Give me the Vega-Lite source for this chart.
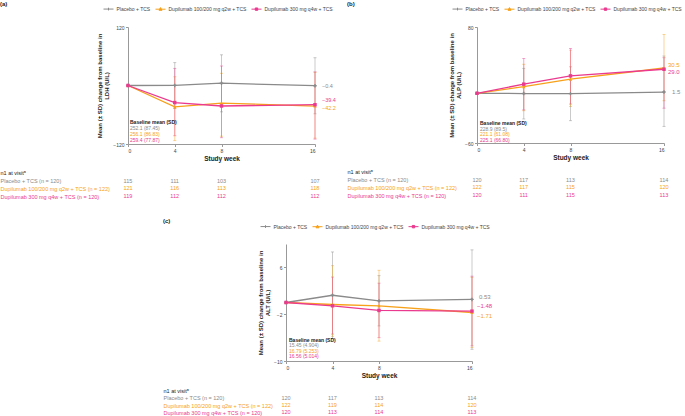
{
  "$schema": "https://vega.github.io/schema/vega-lite/v6.json",
  "padding": {"left": 0, "top": 0, "right": 0, "bottom": 0},
  "background": "white",
  "config": {
    "font": "Liberation Sans",
    "view": {"stroke": null},
    "axis": {"grid": false, "domainColor": "#999999", "tickColor": "#999999", "labelColor": "#444444", "labelFontSize": 5, "tickSize": 2.5, "labelPadding": 1.5, "titleColor": "#222222", "titleFontWeight": "bold"},
    "title": {"fontSize": 6, "fontWeight": "bold", "anchor": "start", "frame": "bounds", "offset": -3, "color": "#222222"},
    "text": {"font": "Liberation Sans"}
  },
  "datasets": {
    "ldh": [
      {"series": "Placebo + TCS", "week": 0, "mean": 0, "base": "252.1 (87.45)"},
      {"series": "Placebo + TCS", "week": 4, "mean": 0.2, "lo": -47, "hi": 47},
      {"series": "Placebo + TCS", "week": 8, "mean": 4.8, "lo": -54, "hi": 63},
      {"series": "Placebo + TCS", "week": 16, "mean": -0.4, "lo": -58, "hi": 57},
      {"series": "Dupilumab 100/200 mg q2w + TCS", "week": 0, "mean": 0, "base": "256.1 (86.83)"},
      {"series": "Dupilumab 100/200 mg q2w + TCS", "week": 4, "mean": -44, "lo": -113, "hi": 18},
      {"series": "Dupilumab 100/200 mg q2w + TCS", "week": 8, "mean": -36, "lo": -104, "hi": 25},
      {"series": "Dupilumab 100/200 mg q2w + TCS", "week": 16, "mean": -42.2, "lo": -108, "hi": 27},
      {"series": "Dupilumab 300 mg q4w + TCS", "week": 0, "mean": 0, "base": "259.4 (77.87)"},
      {"series": "Dupilumab 300 mg q4w + TCS", "week": 4, "mean": -35, "lo": -103, "hi": 35},
      {"series": "Dupilumab 300 mg q4w + TCS", "week": 8, "mean": -42, "lo": -107, "hi": 40},
      {"series": "Dupilumab 300 mg q4w + TCS", "week": 16, "mean": -39.4, "lo": -110, "hi": 28}
    ],
    "alp": [
      {"series": "Placebo + TCS", "week": 0, "mean": 0, "base": "228.9 (89.5)"},
      {"series": "Placebo + TCS", "week": 4, "mean": -0.3, "lo": -31, "hi": 30},
      {"series": "Placebo + TCS", "week": 8, "mean": -0.4, "lo": -33, "hi": 32},
      {"series": "Placebo + TCS", "week": 16, "mean": 1.5, "lo": -40, "hi": 45},
      {"series": "Dupilumab 100/200 mg q2w + TCS", "week": 0, "mean": 0, "base": "221.1 (61.08)"},
      {"series": "Dupilumab 100/200 mg q2w + TCS", "week": 4, "mean": 8, "lo": -21, "hi": 35},
      {"series": "Dupilumab 100/200 mg q2w + TCS", "week": 8, "mean": 17, "lo": -16, "hi": 52},
      {"series": "Dupilumab 100/200 mg q2w + TCS", "week": 16, "mean": 30.5, "lo": -9, "hi": 71},
      {"series": "Dupilumab 300 mg q4w + TCS", "week": 0, "mean": 0, "base": "225.1 (66.80)"},
      {"series": "Dupilumab 300 mg q4w + TCS", "week": 4, "mean": 11, "lo": -20, "hi": 42},
      {"series": "Dupilumab 300 mg q4w + TCS", "week": 8, "mean": 21, "lo": -13, "hi": 54},
      {"series": "Dupilumab 300 mg q4w + TCS", "week": 16, "mean": 29.0, "lo": -18, "hi": 43}
    ],
    "alt": [
      {"series": "Placebo + TCS", "week": 0, "mean": 0, "base": "15.45 (4.904)"},
      {"series": "Placebo + TCS", "week": 4, "mean": 1.24, "lo": -6.16, "hi": 8.64},
      {"series": "Placebo + TCS", "week": 8, "mean": 0.28, "lo": -4.0, "hi": 4.6},
      {"series": "Placebo + TCS", "week": 16, "mean": 0.53, "lo": -8.0, "hi": 9.0},
      {"series": "Dupilumab 100/200 mg q2w + TCS", "week": 0, "mean": 0, "base": "16.79 (5.253)"},
      {"series": "Dupilumab 100/200 mg q2w + TCS", "week": 4, "mean": -0.34, "lo": -5.8, "hi": 6.3},
      {"series": "Dupilumab 100/200 mg q2w + TCS", "week": 8, "mean": -0.56, "lo": -6.6, "hi": 5.5},
      {"series": "Dupilumab 100/200 mg q2w + TCS", "week": 16, "mean": -1.71, "lo": -7.7, "hi": 4.3},
      {"series": "Dupilumab 300 mg q4w + TCS", "week": 0, "mean": 0, "base": "16.56 (5.014)"},
      {"series": "Dupilumab 300 mg q4w + TCS", "week": 4, "mean": -0.56, "lo": -5.4, "hi": 4.35},
      {"series": "Dupilumab 300 mg q4w + TCS", "week": 8, "mean": -1.36, "lo": -6.0, "hi": 3.3},
      {"series": "Dupilumab 300 mg q4w + TCS", "week": 16, "mean": -1.48, "lo": -7.4, "hi": 4.5}
    ],
    "ldh_n": [
      {"row": "Placebo + TCS (n = 120)", "series": "Placebo + TCS", "week": 0, "n": 115},
      {"row": "Placebo + TCS (n = 120)", "series": "Placebo + TCS", "week": 4, "n": 111},
      {"row": "Placebo + TCS (n = 120)", "series": "Placebo + TCS", "week": 8, "n": 103},
      {"row": "Placebo + TCS (n = 120)", "series": "Placebo + TCS", "week": 16, "n": 107},
      {"row": "Dupilumab 100/200 mg q2w + TCS (n = 122)", "series": "Dupilumab 100/200 mg q2w + TCS", "week": 0, "n": 121},
      {"row": "Dupilumab 100/200 mg q2w + TCS (n = 122)", "series": "Dupilumab 100/200 mg q2w + TCS", "week": 4, "n": 116},
      {"row": "Dupilumab 100/200 mg q2w + TCS (n = 122)", "series": "Dupilumab 100/200 mg q2w + TCS", "week": 8, "n": 113},
      {"row": "Dupilumab 100/200 mg q2w + TCS (n = 122)", "series": "Dupilumab 100/200 mg q2w + TCS", "week": 16, "n": 118},
      {"row": "Dupilumab 300 mg q4w + TCS (n = 120)", "series": "Dupilumab 300 mg q4w + TCS", "week": 0, "n": 119},
      {"row": "Dupilumab 300 mg q4w + TCS (n = 120)", "series": "Dupilumab 300 mg q4w + TCS", "week": 4, "n": 112},
      {"row": "Dupilumab 300 mg q4w + TCS (n = 120)", "series": "Dupilumab 300 mg q4w + TCS", "week": 8, "n": 112},
      {"row": "Dupilumab 300 mg q4w + TCS (n = 120)", "series": "Dupilumab 300 mg q4w + TCS", "week": 16, "n": 112}
    ],
    "alp_n": [
      {"row": "Placebo + TCS (n = 120)", "series": "Placebo + TCS", "week": 0, "n": 120},
      {"row": "Placebo + TCS (n = 120)", "series": "Placebo + TCS", "week": 4, "n": 117},
      {"row": "Placebo + TCS (n = 120)", "series": "Placebo + TCS", "week": 8, "n": 113},
      {"row": "Placebo + TCS (n = 120)", "series": "Placebo + TCS", "week": 16, "n": 114},
      {"row": "Dupilumab 100/200 mg q2w + TCS (n = 122)", "series": "Dupilumab 100/200 mg q2w + TCS", "week": 0, "n": 122},
      {"row": "Dupilumab 100/200 mg q2w + TCS (n = 122)", "series": "Dupilumab 100/200 mg q2w + TCS", "week": 4, "n": 117},
      {"row": "Dupilumab 100/200 mg q2w + TCS (n = 122)", "series": "Dupilumab 100/200 mg q2w + TCS", "week": 8, "n": 115},
      {"row": "Dupilumab 100/200 mg q2w + TCS (n = 122)", "series": "Dupilumab 100/200 mg q2w + TCS", "week": 16, "n": 120},
      {"row": "Dupilumab 300 mg q4w + TCS (n = 120)", "series": "Dupilumab 300 mg q4w + TCS", "week": 0, "n": 120},
      {"row": "Dupilumab 300 mg q4w + TCS (n = 120)", "series": "Dupilumab 300 mg q4w + TCS", "week": 4, "n": 111},
      {"row": "Dupilumab 300 mg q4w + TCS (n = 120)", "series": "Dupilumab 300 mg q4w + TCS", "week": 8, "n": 115},
      {"row": "Dupilumab 300 mg q4w + TCS (n = 120)", "series": "Dupilumab 300 mg q4w + TCS", "week": 16, "n": 113}
    ],
    "alt_n": [
      {"row": "Placebo + TCS (n = 120)", "series": "Placebo + TCS", "week": 0, "n": 120},
      {"row": "Placebo + TCS (n = 120)", "series": "Placebo + TCS", "week": 4, "n": 117},
      {"row": "Placebo + TCS (n = 120)", "series": "Placebo + TCS", "week": 8, "n": 113},
      {"row": "Placebo + TCS (n = 120)", "series": "Placebo + TCS", "week": 16, "n": 114},
      {"row": "Dupilumab 100/200 mg q2w + TCS (n = 122)", "series": "Dupilumab 100/200 mg q2w + TCS", "week": 0, "n": 122},
      {"row": "Dupilumab 100/200 mg q2w + TCS (n = 122)", "series": "Dupilumab 100/200 mg q2w + TCS", "week": 4, "n": 119},
      {"row": "Dupilumab 100/200 mg q2w + TCS (n = 122)", "series": "Dupilumab 100/200 mg q2w + TCS", "week": 8, "n": 114},
      {"row": "Dupilumab 100/200 mg q2w + TCS (n = 122)", "series": "Dupilumab 100/200 mg q2w + TCS", "week": 16, "n": 120},
      {"row": "Dupilumab 300 mg q4w + TCS (n = 120)", "series": "Dupilumab 300 mg q4w + TCS", "week": 0, "n": 120},
      {"row": "Dupilumab 300 mg q4w + TCS (n = 120)", "series": "Dupilumab 300 mg q4w + TCS", "week": 4, "n": 113},
      {"row": "Dupilumab 300 mg q4w + TCS (n = 120)", "series": "Dupilumab 300 mg q4w + TCS", "week": 8, "n": 114},
      {"row": "Dupilumab 300 mg q4w + TCS (n = 120)", "series": "Dupilumab 300 mg q4w + TCS", "week": 16, "n": 113}
    ]
  },
  "spacing": 18,
  "resolve": {"scale": {"shape": "independent", "fill": "independent", "stroke": "independent"}, "legend": {"shape": "independent", "fill": "independent", "stroke": "independent"}},
  "vconcat": [
    {
      "spacing": 11,
      "resolve": {"scale": {"shape": "independent", "fill": "independent", "stroke": "independent"}, "legend": {"shape": "independent", "fill": "independent", "stroke": "independent"}},
      "hconcat": [
        {
          "title": {"text": "(a)"},
          "spacing": 7,
          "resolve": {"scale": {"shape": "independent", "fill": "independent", "stroke": "independent"}, "legend": {"shape": "independent", "fill": "independent", "stroke": "independent"}},
          "vconcat": [
            {
              "width": 187, "height": 117,
              "data": {"name": "ldh"},
              "encoding": {"x": {"field": "week", "type": "quantitative", "scale": {"domain": [0, 16], "nice": false}, "axis": {"values": [0, 4, 8, 16], "format": "d", "title": "Study week", "titleFontSize": 6.5, "titlePadding": 2}}},
              "layer": [
                {"transform": [{"filter": "isValid(datum.lo)"}], "mark": {"type": "errorbar", "ticks": {"size": 3}, "opacity": 0.45, "thickness": 1},
                 "encoding": {"y": {"field": "lo", "type": "quantitative", "scale": {"domain": [-120, 120], "nice": false, "zero": false}, "axis": {"values": [-120, -80, -40, 0, 40, 80, 120], "title": ["Mean (± SD) change from baseline in", "LDH (U/L)"], "titleFontSize": 6, "titleLineHeight": 7.5, "titlePadding": 3}}, "y2": {"field": "hi"}, "color": {"field": "series", "type": "nominal", "scale": {"domain": ["Placebo + TCS", "Dupilumab 100/200 mg q2w + TCS", "Dupilumab 300 mg q4w + TCS"], "range": ["#8A8A8A", "#F7A11A", "#EA3A8F"]}, "legend": null}}},
                {"mark": {"type": "line", "strokeWidth": 1.3}, "encoding": {"y": {"field": "mean", "type": "quantitative"}, "color": {"field": "series", "type": "nominal", "legend": null}}},
                {"transform": [{"filter": "datum.series == 'Placebo + TCS'"}], "mark": {"type": "point", "shape": "cross", "filled": true, "opacity": 1, "size": 12}, "encoding": {"y": {"field": "mean", "type": "quantitative"}, "color": {"field": "series", "type": "nominal", "legend": null}}},
                {"transform": [{"filter": "datum.series == 'Dupilumab 100/200 mg q2w + TCS'"}], "mark": {"type": "point", "shape": "triangle-up", "filled": true, "opacity": 1, "size": 12}, "encoding": {"y": {"field": "mean", "type": "quantitative"}, "color": {"field": "series", "type": "nominal", "legend": null}}},
                {"transform": [{"filter": "datum.series == 'Dupilumab 300 mg q4w + TCS'"}], "mark": {"type": "point", "shape": "square", "filled": true, "opacity": 1, "size": 12}, "encoding": {"y": {"field": "mean", "type": "quantitative"}, "color": {"field": "series", "type": "nominal", "legend": null}}},
                {"transform": [{"filter": "false"}], "mark": {"type": "point", "filled": true, "opacity": 1, "strokeWidth": 1},
                 "encoding": {"y": {"field": "mean", "type": "quantitative"},
                   "fill": {"field": "series", "type": "nominal", "scale": {"domain": ["Placebo + TCS", "Dupilumab 100/200 mg q2w + TCS", "Dupilumab 300 mg q4w + TCS"], "range": ["#8A8A8A", "#F7A11A", "#EA3A8F"]}, "legend": {"orient": "none", "legendX": -25, "legendY": -23.5, "direction": "horizontal", "title": null, "symbolSize": 100, "symbolStrokeWidth": 1, "labelFontSize": 5, "labelColor": "#444444", "columnPadding": 2, "labelOffset": 2.5}},
                   "stroke": {"field": "series", "type": "nominal", "scale": {"domain": ["Placebo + TCS", "Dupilumab 100/200 mg q2w + TCS", "Dupilumab 300 mg q4w + TCS"], "range": ["#8A8A8A", "#F7A11A", "#EA3A8F"]}, "legend": {"orient": "none", "legendX": -25, "legendY": -23.5, "direction": "horizontal", "title": null, "symbolSize": 100, "symbolStrokeWidth": 1, "labelFontSize": 5, "labelColor": "#444444", "columnPadding": 2, "labelOffset": 2.5}},
                   "shape": {"field": "series", "type": "nominal", "scale": {"domain": ["Placebo + TCS", "Dupilumab 100/200 mg q2w + TCS", "Dupilumab 300 mg q4w + TCS"], "range": ["M-1,0H1M0,-0.27V0.27", "M-1,0H1M0,-0.32L0.3,0.22H-0.3Z", "M-1,0H1M-0.24,-0.24H0.24V0.24H-0.24Z"]}, "legend": {"orient": "none", "legendX": -25, "legendY": -23.5, "direction": "horizontal", "title": null, "symbolSize": 100, "symbolStrokeWidth": 1, "labelFontSize": 5, "labelColor": "#444444", "columnPadding": 2, "labelOffset": 2.5}}}},
                {"transform": [{"filter": "datum.week == 16 && datum.series == 'Placebo + TCS'"}], "mark": {"type": "text", "align": "left", "dx": 7, "dy": 0, "fontSize": 5.5}, "encoding": {"y": {"field": "mean", "type": "quantitative"}, "text": {"field": "mean", "format": ".1f"}, "color": {"field": "series", "type": "nominal", "legend": null}}},
                {"transform": [{"filter": "datum.week == 16 && datum.series == 'Dupilumab 100/200 mg q2w + TCS'"}], "mark": {"type": "text", "align": "left", "dx": 7, "dy": 1.5, "fontSize": 5.5}, "encoding": {"y": {"field": "mean", "type": "quantitative"}, "text": {"field": "mean", "format": ".1f"}, "color": {"field": "series", "type": "nominal", "legend": null}}},
                {"transform": [{"filter": "datum.week == 16 && datum.series == 'Dupilumab 300 mg q4w + TCS'"}], "mark": {"type": "text", "align": "left", "dx": 7, "dy": -5, "fontSize": 5.5}, "encoding": {"y": {"field": "mean", "type": "quantitative"}, "text": {"field": "mean", "format": ".1f"}, "color": {"field": "series", "type": "nominal", "legend": null}}},
                {"transform": [{"filter": "datum.week == 0 && datum.series == 'Placebo + TCS'"}], "mark": {"type": "text", "align": "left", "baseline": "middle", "dx": 2, "fontSize": 5, "fontWeight": "bold", "color": "#222222", "text": "Baseline mean (SD)"}, "encoding": {"y": {"datum": -74, "type": "quantitative"}}},
                {"transform": [{"filter": "datum.week == 0 && datum.series == 'Placebo + TCS'"}], "mark": {"type": "text", "align": "left", "baseline": "middle", "dx": 2, "fontSize": 5}, "encoding": {"y": {"datum": -88, "type": "quantitative"}, "text": {"field": "base"}, "color": {"field": "series", "type": "nominal", "legend": null}}},
                {"transform": [{"filter": "datum.week == 0 && datum.series == 'Dupilumab 100/200 mg q2w + TCS'"}], "mark": {"type": "text", "align": "left", "baseline": "middle", "dx": 2, "fontSize": 5}, "encoding": {"y": {"datum": -99.5, "type": "quantitative"}, "text": {"field": "base"}, "color": {"field": "series", "type": "nominal", "legend": null}}},
                {"transform": [{"filter": "datum.week == 0 && datum.series == 'Dupilumab 300 mg q4w + TCS'"}], "mark": {"type": "text", "align": "left", "baseline": "middle", "dx": 2, "fontSize": 5}, "encoding": {"y": {"datum": -111, "type": "quantitative"}, "text": {"field": "base"}, "color": {"field": "series", "type": "nominal", "legend": null}}}
              ]
            },
            {
              "width": 187, "height": 31,
              "data": {"name": "ldh_n"},
              "mark": {"type": "text", "fontSize": 5.5},
              "encoding": {
                "x": {"field": "week", "type": "quantitative", "scale": {"domain": [0, 16], "nice": false}, "axis": null},
                "y": {"field": "row", "type": "nominal", "scale": {"domain": ["n1 at visitᵃ", "Placebo + TCS (n = 120)", "Dupilumab 100/200 mg q2w + TCS (n = 122)", "Dupilumab 300 mg q4w + TCS (n = 120)"]}, "axis": {"title": null, "domain": false, "ticks": false, "labelAlign": "left", "labelPadding": 128, "labelFontSize": 5.5, "labelLimit": 0, "labelColor": {"expr": "datum.value == 'Dupilumab 100/200 mg q2w + TCS (n = 122)' ? '#F7A11A' : datum.value == 'Dupilumab 300 mg q4w + TCS (n = 120)' ? '#EA3A8F' : datum.value == 'Placebo + TCS (n = 120)' ? '#8A8A8A' : '#222222'"}}},
                "text": {"field": "n"},
                "color": {"field": "series", "type": "nominal", "scale": {"domain": ["Placebo + TCS", "Dupilumab 100/200 mg q2w + TCS", "Dupilumab 300 mg q4w + TCS"], "range": ["#8A8A8A", "#F7A11A", "#EA3A8F"]}, "legend": null}
              }
            }
          ]
        },
        {
          "title": {"text": "(b)"},
          "spacing": 7,
          "resolve": {"scale": {"shape": "independent", "fill": "independent", "stroke": "independent"}, "legend": {"shape": "independent", "fill": "independent", "stroke": "independent"}},
          "vconcat": [
            {
              "width": 187, "height": 116,
              "data": {"name": "alp"},
              "encoding": {"x": {"field": "week", "type": "quantitative", "scale": {"domain": [0, 16], "nice": false}, "axis": {"values": [0, 4, 8, 16], "format": "d", "title": "Study week", "titleFontSize": 6.5, "titlePadding": 2}}},
              "layer": [
                {"transform": [{"filter": "isValid(datum.lo)"}], "mark": {"type": "errorbar", "ticks": {"size": 3}, "opacity": 0.45, "thickness": 1},
                 "encoding": {"y": {"field": "lo", "type": "quantitative", "scale": {"domain": [-60, 80], "nice": false, "zero": false}, "axis": {"values": [-60, -40, -20, 0, 20, 40, 60, 80], "title": ["Mean (± SD) change from baseline in", "ALP (U/L)"], "titleFontSize": 6, "titleLineHeight": 7.5, "titlePadding": 3}}, "y2": {"field": "hi"}, "color": {"field": "series", "type": "nominal", "scale": {"domain": ["Placebo + TCS", "Dupilumab 100/200 mg q2w + TCS", "Dupilumab 300 mg q4w + TCS"], "range": ["#8A8A8A", "#F7A11A", "#EA3A8F"]}, "legend": null}}},
                {"mark": {"type": "line", "strokeWidth": 1.3}, "encoding": {"y": {"field": "mean", "type": "quantitative"}, "color": {"field": "series", "type": "nominal", "legend": null}}},
                {"transform": [{"filter": "datum.series == 'Placebo + TCS'"}], "mark": {"type": "point", "shape": "cross", "filled": true, "opacity": 1, "size": 12}, "encoding": {"y": {"field": "mean", "type": "quantitative"}, "color": {"field": "series", "type": "nominal", "legend": null}}},
                {"transform": [{"filter": "datum.series == 'Dupilumab 100/200 mg q2w + TCS'"}], "mark": {"type": "point", "shape": "triangle-up", "filled": true, "opacity": 1, "size": 12}, "encoding": {"y": {"field": "mean", "type": "quantitative"}, "color": {"field": "series", "type": "nominal", "legend": null}}},
                {"transform": [{"filter": "datum.series == 'Dupilumab 300 mg q4w + TCS'"}], "mark": {"type": "point", "shape": "square", "filled": true, "opacity": 1, "size": 12}, "encoding": {"y": {"field": "mean", "type": "quantitative"}, "color": {"field": "series", "type": "nominal", "legend": null}}},
                {"transform": [{"filter": "false"}], "mark": {"type": "point", "filled": true, "opacity": 1, "strokeWidth": 1},
                 "encoding": {"y": {"field": "mean", "type": "quantitative"},
                   "fill": {"field": "series", "type": "nominal", "scale": {"domain": ["Placebo + TCS", "Dupilumab 100/200 mg q2w + TCS", "Dupilumab 300 mg q4w + TCS"], "range": ["#8A8A8A", "#F7A11A", "#EA3A8F"]}, "legend": {"orient": "none", "legendX": -25, "legendY": -23.5, "direction": "horizontal", "title": null, "symbolSize": 100, "symbolStrokeWidth": 1, "labelFontSize": 5, "labelColor": "#444444", "columnPadding": 2, "labelOffset": 2.5}},
                   "stroke": {"field": "series", "type": "nominal", "scale": {"domain": ["Placebo + TCS", "Dupilumab 100/200 mg q2w + TCS", "Dupilumab 300 mg q4w + TCS"], "range": ["#8A8A8A", "#F7A11A", "#EA3A8F"]}, "legend": {"orient": "none", "legendX": -25, "legendY": -23.5, "direction": "horizontal", "title": null, "symbolSize": 100, "symbolStrokeWidth": 1, "labelFontSize": 5, "labelColor": "#444444", "columnPadding": 2, "labelOffset": 2.5}},
                   "shape": {"field": "series", "type": "nominal", "scale": {"domain": ["Placebo + TCS", "Dupilumab 100/200 mg q2w + TCS", "Dupilumab 300 mg q4w + TCS"], "range": ["M-1,0H1M0,-0.27V0.27", "M-1,0H1M0,-0.32L0.3,0.22H-0.3Z", "M-1,0H1M-0.24,-0.24H0.24V0.24H-0.24Z"]}, "legend": {"orient": "none", "legendX": -25, "legendY": -23.5, "direction": "horizontal", "title": null, "symbolSize": 100, "symbolStrokeWidth": 1, "labelFontSize": 5, "labelColor": "#444444", "columnPadding": 2, "labelOffset": 2.5}}}},
                {"transform": [{"filter": "datum.week == 16 && datum.series == 'Placebo + TCS'"}], "mark": {"type": "text", "align": "left", "dx": 8, "dy": 0, "fontSize": 6}, "encoding": {"y": {"field": "mean", "type": "quantitative"}, "text": {"field": "mean", "format": ".1f"}, "color": {"field": "series", "type": "nominal", "legend": null}}},
                {"transform": [{"filter": "datum.week == 16 && datum.series == 'Dupilumab 100/200 mg q2w + TCS'"}], "mark": {"type": "text", "align": "left", "dx": 4, "dy": -3, "fontSize": 6}, "encoding": {"y": {"field": "mean", "type": "quantitative"}, "text": {"field": "mean", "format": ".1f"}, "color": {"field": "series", "type": "nominal", "legend": null}}},
                {"transform": [{"filter": "datum.week == 16 && datum.series == 'Dupilumab 300 mg q4w + TCS'"}], "mark": {"type": "text", "align": "left", "dx": 4, "dy": 3, "fontSize": 6}, "encoding": {"y": {"field": "mean", "type": "quantitative"}, "text": {"field": "mean", "format": ".1f"}, "color": {"field": "series", "type": "nominal", "legend": null}}},
                {"transform": [{"filter": "datum.week == 0 && datum.series == 'Placebo + TCS'"}], "mark": {"type": "text", "align": "left", "baseline": "middle", "dx": 3, "fontSize": 5, "fontWeight": "bold", "color": "#222222", "text": "Baseline mean (SD)"}, "encoding": {"y": {"datum": -36, "type": "quantitative"}}},
                {"transform": [{"filter": "datum.week == 0 && datum.series == 'Placebo + TCS'"}], "mark": {"type": "text", "align": "left", "baseline": "middle", "dx": 3, "fontSize": 5}, "encoding": {"y": {"datum": -42.5, "type": "quantitative"}, "text": {"field": "base"}, "color": {"field": "series", "type": "nominal", "legend": null}}},
                {"transform": [{"filter": "datum.week == 0 && datum.series == 'Dupilumab 100/200 mg q2w + TCS'"}], "mark": {"type": "text", "align": "left", "baseline": "middle", "dx": 3, "fontSize": 5}, "encoding": {"y": {"datum": -49, "type": "quantitative"}, "text": {"field": "base"}, "color": {"field": "series", "type": "nominal", "legend": null}}},
                {"transform": [{"filter": "datum.week == 0 && datum.series == 'Dupilumab 300 mg q4w + TCS'"}], "mark": {"type": "text", "align": "left", "baseline": "middle", "dx": 3, "fontSize": 5}, "encoding": {"y": {"datum": -55.8, "type": "quantitative"}, "text": {"field": "base"}, "color": {"field": "series", "type": "nominal", "legend": null}}}
              ]
            },
            {
              "width": 187, "height": 31,
              "data": {"name": "alp_n"},
              "mark": {"type": "text", "fontSize": 5.5},
              "encoding": {
                "x": {"field": "week", "type": "quantitative", "scale": {"domain": [0, 16], "nice": false}, "axis": null},
                "y": {"field": "row", "type": "nominal", "scale": {"domain": ["n1 at visitᵃ", "Placebo + TCS (n = 120)", "Dupilumab 100/200 mg q2w + TCS (n = 122)", "Dupilumab 300 mg q4w + TCS (n = 120)"]}, "axis": {"title": null, "domain": false, "ticks": false, "labelAlign": "left", "labelPadding": 130, "labelFontSize": 5.5, "labelLimit": 0, "labelColor": {"expr": "datum.value == 'Dupilumab 100/200 mg q2w + TCS (n = 122)' ? '#F7A11A' : datum.value == 'Dupilumab 300 mg q4w + TCS (n = 120)' ? '#EA3A8F' : datum.value == 'Placebo + TCS (n = 120)' ? '#8A8A8A' : '#222222'"}}},
                "text": {"field": "n"},
                "color": {"field": "series", "type": "nominal", "scale": {"domain": ["Placebo + TCS", "Dupilumab 100/200 mg q2w + TCS", "Dupilumab 300 mg q4w + TCS"], "range": ["#8A8A8A", "#F7A11A", "#EA3A8F"]}, "legend": null}
              }
            }
          ]
        }
      ]
    },
    {
      "spacing": 0,
      "resolve": {"scale": {"shape": "independent", "fill": "independent", "stroke": "independent"}, "legend": {"shape": "independent", "fill": "independent", "stroke": "independent"}},
      "hconcat": [
        {"width": 35, "height": 5, "data": {"values": []}, "mark": "point", "encoding": {}},
        {
          "title": {"text": "(c)"},
          "spacing": 8,
          "resolve": {"scale": {"shape": "independent", "fill": "independent", "stroke": "independent"}, "legend": {"shape": "independent", "fill": "independent", "stroke": "independent"}},
          "vconcat": [
            {
              "width": 186, "height": 117,
              "data": {"name": "alt"},
              "encoding": {"x": {"field": "week", "type": "quantitative", "scale": {"domain": [0, 16], "nice": false}, "axis": {"values": [0, 4, 8, 16], "format": "d", "title": "Study week", "titleFontSize": 6.5, "titlePadding": 2}}},
              "layer": [
                {"transform": [{"filter": "isValid(datum.lo)"}], "mark": {"type": "errorbar", "ticks": {"size": 3}, "opacity": 0.45, "thickness": 1},
                 "encoding": {"y": {"field": "lo", "type": "quantitative", "scale": {"domain": [-10, 10], "nice": false, "zero": false}, "axis": {"values": [-10, -8, -6, -4, -2, 0, 2, 4, 6, 8, 10], "title": ["Mean (± SD) change from baseline in", "ALT (U/L)"], "titleFontSize": 6, "titleLineHeight": 7.5, "titlePadding": 3}}, "y2": {"field": "hi"}, "color": {"field": "series", "type": "nominal", "scale": {"domain": ["Placebo + TCS", "Dupilumab 100/200 mg q2w + TCS", "Dupilumab 300 mg q4w + TCS"], "range": ["#8A8A8A", "#F7A11A", "#EA3A8F"]}, "legend": null}}},
                {"mark": {"type": "line", "strokeWidth": 1.3}, "encoding": {"y": {"field": "mean", "type": "quantitative"}, "color": {"field": "series", "type": "nominal", "legend": null}}},
                {"transform": [{"filter": "datum.series == 'Placebo + TCS'"}], "mark": {"type": "point", "shape": "cross", "filled": true, "opacity": 1, "size": 12}, "encoding": {"y": {"field": "mean", "type": "quantitative"}, "color": {"field": "series", "type": "nominal", "legend": null}}},
                {"transform": [{"filter": "datum.series == 'Dupilumab 100/200 mg q2w + TCS'"}], "mark": {"type": "point", "shape": "triangle-up", "filled": true, "opacity": 1, "size": 12}, "encoding": {"y": {"field": "mean", "type": "quantitative"}, "color": {"field": "series", "type": "nominal", "legend": null}}},
                {"transform": [{"filter": "datum.series == 'Dupilumab 300 mg q4w + TCS'"}], "mark": {"type": "point", "shape": "square", "filled": true, "opacity": 1, "size": 12}, "encoding": {"y": {"field": "mean", "type": "quantitative"}, "color": {"field": "series", "type": "nominal", "legend": null}}},
                {"transform": [{"filter": "false"}], "mark": {"type": "point", "filled": true, "opacity": 1, "strokeWidth": 1},
                 "encoding": {"y": {"field": "mean", "type": "quantitative"},
                   "fill": {"field": "series", "type": "nominal", "scale": {"domain": ["Placebo + TCS", "Dupilumab 100/200 mg q2w + TCS", "Dupilumab 300 mg q4w + TCS"], "range": ["#8A8A8A", "#F7A11A", "#EA3A8F"]}, "legend": {"orient": "none", "legendX": -26, "legendY": -23, "direction": "horizontal", "title": null, "symbolSize": 100, "symbolStrokeWidth": 1, "labelFontSize": 5, "labelColor": "#444444", "columnPadding": 2, "labelOffset": 2.5}},
                   "stroke": {"field": "series", "type": "nominal", "scale": {"domain": ["Placebo + TCS", "Dupilumab 100/200 mg q2w + TCS", "Dupilumab 300 mg q4w + TCS"], "range": ["#8A8A8A", "#F7A11A", "#EA3A8F"]}, "legend": {"orient": "none", "legendX": -26, "legendY": -23, "direction": "horizontal", "title": null, "symbolSize": 100, "symbolStrokeWidth": 1, "labelFontSize": 5, "labelColor": "#444444", "columnPadding": 2, "labelOffset": 2.5}},
                   "shape": {"field": "series", "type": "nominal", "scale": {"domain": ["Placebo + TCS", "Dupilumab 100/200 mg q2w + TCS", "Dupilumab 300 mg q4w + TCS"], "range": ["M-1,0H1M0,-0.27V0.27", "M-1,0H1M0,-0.32L0.3,0.22H-0.3Z", "M-1,0H1M-0.24,-0.24H0.24V0.24H-0.24Z"]}, "legend": {"orient": "none", "legendX": -26, "legendY": -23, "direction": "horizontal", "title": null, "symbolSize": 100, "symbolStrokeWidth": 1, "labelFontSize": 5, "labelColor": "#444444", "columnPadding": 2, "labelOffset": 2.5}}}},
                {"transform": [{"filter": "datum.week == 16 && datum.series == 'Placebo + TCS'"}], "mark": {"type": "text", "align": "left", "dx": 7, "dy": -2, "fontSize": 6}, "encoding": {"y": {"field": "mean", "type": "quantitative"}, "text": {"field": "mean", "format": ".2f"}, "color": {"field": "series", "type": "nominal", "legend": null}}},
                {"transform": [{"filter": "datum.week == 16 && datum.series == 'Dupilumab 100/200 mg q2w + TCS'"}], "mark": {"type": "text", "align": "left", "dx": 5, "dy": 3, "fontSize": 6}, "encoding": {"y": {"field": "mean", "type": "quantitative"}, "text": {"field": "mean", "format": ".2f"}, "color": {"field": "series", "type": "nominal", "legend": null}}},
                {"transform": [{"filter": "datum.week == 16 && datum.series == 'Dupilumab 300 mg q4w + TCS'"}], "mark": {"type": "text", "align": "left", "dx": 5, "dy": -5, "fontSize": 6}, "encoding": {"y": {"field": "mean", "type": "quantitative"}, "text": {"field": "mean", "format": ".2f"}, "color": {"field": "series", "type": "nominal", "legend": null}}},
                {"transform": [{"filter": "datum.week == 0 && datum.series == 'Placebo + TCS'"}], "mark": {"type": "text", "align": "left", "baseline": "middle", "dx": 3, "fontSize": 5, "fontWeight": "bold", "color": "#222222", "text": "Baseline mean (SD)"}, "encoding": {"y": {"datum": -6.4, "type": "quantitative"}}},
                {"transform": [{"filter": "datum.week == 0 && datum.series == 'Placebo + TCS'"}], "mark": {"type": "text", "align": "left", "baseline": "middle", "dx": 3, "fontSize": 5}, "encoding": {"y": {"datum": -7.3, "type": "quantitative"}, "text": {"field": "base"}, "color": {"field": "series", "type": "nominal", "legend": null}}},
                {"transform": [{"filter": "datum.week == 0 && datum.series == 'Dupilumab 100/200 mg q2w + TCS'"}], "mark": {"type": "text", "align": "left", "baseline": "middle", "dx": 3, "fontSize": 5}, "encoding": {"y": {"datum": -8.25, "type": "quantitative"}, "text": {"field": "base"}, "color": {"field": "series", "type": "nominal", "legend": null}}},
                {"transform": [{"filter": "datum.week == 0 && datum.series == 'Dupilumab 300 mg q4w + TCS'"}], "mark": {"type": "text", "align": "left", "baseline": "middle", "dx": 3, "fontSize": 5}, "encoding": {"y": {"datum": -9.2, "type": "quantitative"}, "text": {"field": "base"}, "color": {"field": "series", "type": "nominal", "legend": null}}}
              ]
            },
            {
              "width": 186, "height": 29,
              "data": {"name": "alt_n"},
              "mark": {"type": "text", "fontSize": 5.5},
              "encoding": {
                "x": {"field": "week", "type": "quantitative", "scale": {"domain": [0, 16], "nice": false}, "axis": null},
                "y": {"field": "row", "type": "nominal", "scale": {"domain": ["n1 at visitᵃ", "Placebo + TCS (n = 120)", "Dupilumab 100/200 mg q2w + TCS (n = 122)", "Dupilumab 300 mg q4w + TCS (n = 120)"]}, "axis": {"title": null, "domain": false, "ticks": false, "labelAlign": "left", "labelPadding": 123, "labelFontSize": 5.5, "labelLimit": 0, "labelColor": {"expr": "datum.value == 'Dupilumab 100/200 mg q2w + TCS (n = 122)' ? '#F7A11A' : datum.value == 'Dupilumab 300 mg q4w + TCS (n = 120)' ? '#EA3A8F' : datum.value == 'Placebo + TCS (n = 120)' ? '#8A8A8A' : '#222222'"}}},
                "text": {"field": "n"},
                "color": {"field": "series", "type": "nominal", "scale": {"domain": ["Placebo + TCS", "Dupilumab 100/200 mg q2w + TCS", "Dupilumab 300 mg q4w + TCS"], "range": ["#8A8A8A", "#F7A11A", "#EA3A8F"]}, "legend": null}
              }
            }
          ]
        }
      ]
    }
  ]
}
